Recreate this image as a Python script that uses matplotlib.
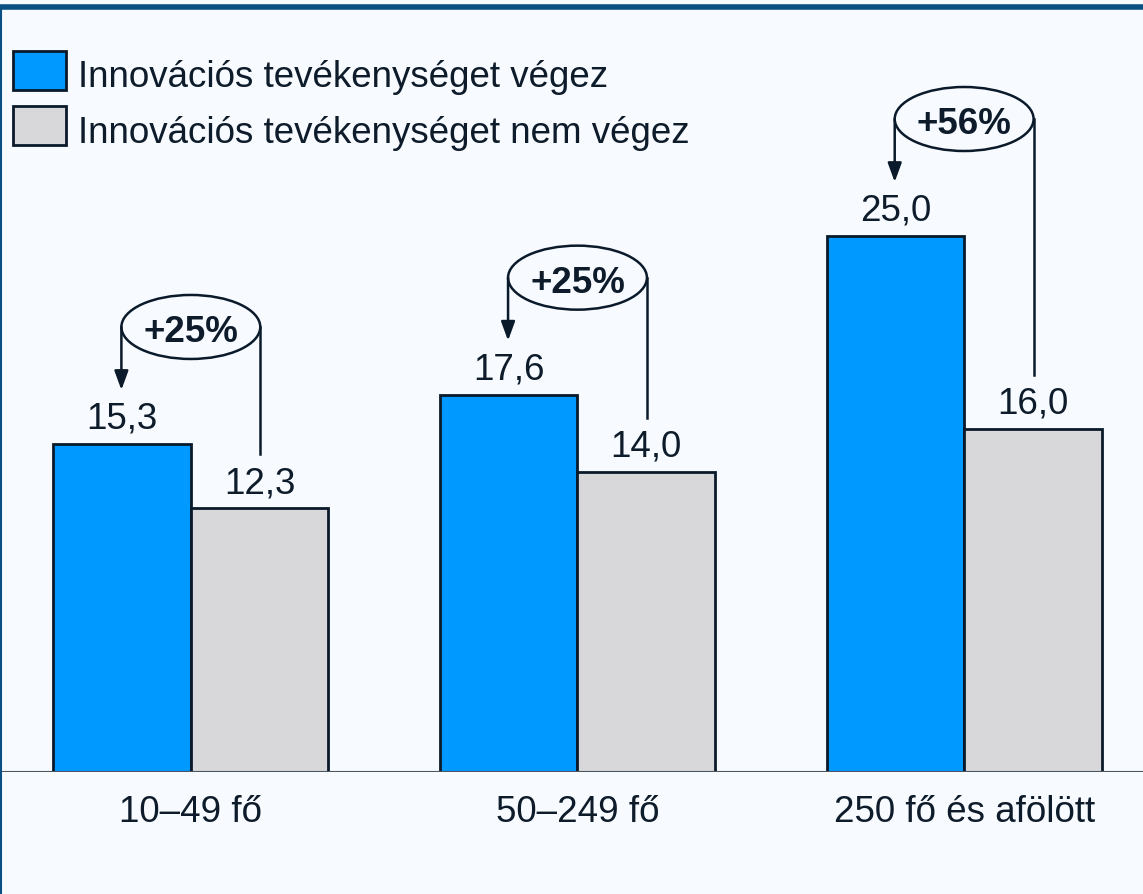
import matplotlib
matplotlib.use("Agg")
import matplotlib.pyplot as plt
from matplotlib.patches import Ellipse, Rectangle
from matplotlib.lines import Line2D
import numpy as np

categories = ["10–49 fő", "50–249 fő", "250 fő és afölött"]
innovating = [15.3, 17.6, 25.0]
non_innovating = [12.3, 14.0, 16.0]
series_labels = ["Innovációs tevékenységet végez", "Innovációs tevékenységet nem végez"]
diff_labels = ["+25%", "+25%", "+56%"]

BLUE = "#0099FF"
GRAY = "#D8D8DA"
EDGE = "#0A1A2A"
TXT = "#0D1B2A"
BG = "#F7FBFF"
FRAME = "#0A5083"
FS = 26.5

plt.rcParams['font.family'] = ['Liberation Sans', 'DejaVu Sans']

W, H = 1143, 895
fig = plt.figure(figsize=(W / 100, H / 100), dpi=100)
fig.patch.set_facecolor(BG)

base_px = 773
ax = fig.add_axes([0, (H - base_px) / H, 1, base_px / H])
ax.set_facecolor("none")
px_per_unit = 21.44
ax.set_ylim(0, base_px / px_per_unit)
spacing = 387.0
ax.set_xlim(-191 / spacing, 2 + (W - 964) / spacing)
for s in ax.spines.values():
    s.set_visible(False)
ax.set_xticks([])
ax.set_yticks([])

x = np.arange(len(categories))
bw = 137.5 / spacing
ax.bar(x - bw / 2, innovating, bw, color=BLUE, edgecolor=EDGE, linewidth=2, zorder=3)
ax.bar(x + bw / 2, non_innovating, bw, color=GRAY, edgecolor=EDGE, linewidth=2, zorder=3)
ax.axhline(0, color="#4A5560", lw=1.5, zorder=4)

pt = 0.72  # points per pixel
for xs, vals in ((x - bw / 2, innovating), (x + bw / 2, non_innovating)):
    for xi, v in zip(xs, vals):
        ax.annotate(f"{v:.1f}".replace(".", ","), (xi, v), xytext=(0, 16 * pt), textcoords="offset points",
                    ha="center", va="baseline", fontsize=FS, color=TXT)

for xi, lab in zip(x, categories):
    ax.text(xi, -49 / px_per_unit, lab, ha="center", va="baseline", fontsize=FS, color=TXT)

# difference annotations
ell_w = 139 / spacing
ell_h = 64 / px_per_unit
for xi, v1, v2, lab in zip(x, innovating, non_innovating, diff_labels):
    tip = v1 + 54 / px_per_unit
    cy = tip + 63 / px_per_unit
    lx = xi - ell_w / 2
    rx = xi + ell_w / 2
    ax.add_patch(Ellipse((xi, cy), ell_w, ell_h, facecolor="none", edgecolor=EDGE, lw=1.8, zorder=5))
    ax.annotate("", xy=(lx, tip), xytext=(lx, cy),
                arrowprops=dict(arrowstyle="-|>,head_length=1.15,head_width=0.42", color=EDGE, lw=1.8,
                                shrinkA=0, shrinkB=0), zorder=5)
    ax.plot([rx, rx], [cy, v2 + 54 / px_per_unit], color=EDGE, lw=1.8, zorder=5)
    ax.text(xi, cy - 14 / px_per_unit, lab, ha="center", va="baseline", fontsize=FS,
            fontweight="bold", color=TXT, zorder=6)

# legend (manual)
box_top = [52, 107]
text_base = [87, 143]
for bt, tb, col, lab in zip(box_top, text_base, [BLUE, GRAY], series_labels):
    fig.patches.append(Rectangle((13 / W, 1 - (bt + 39) / H), 53 / W, 39 / H,
                                 transform=fig.transFigure, facecolor=col, edgecolor=EDGE, lw=2))
    fig.text(78 / W, 1 - tb / H, lab, ha="left", va="baseline", fontsize=FS, color=TXT)

# frame
fig.lines.append(Line2D([0, 1], [1 - 8.3 / H, 1 - 8.3 / H], transform=fig.transFigure, color=FRAME, lw=4))
fig.lines.append(Line2D([0.6 / W, 0.6 / W], [0, 1 - 8.3 / H], transform=fig.transFigure, color=FRAME, lw=1.5))

fig.savefig("out.png", dpi=100, facecolor=BG)
